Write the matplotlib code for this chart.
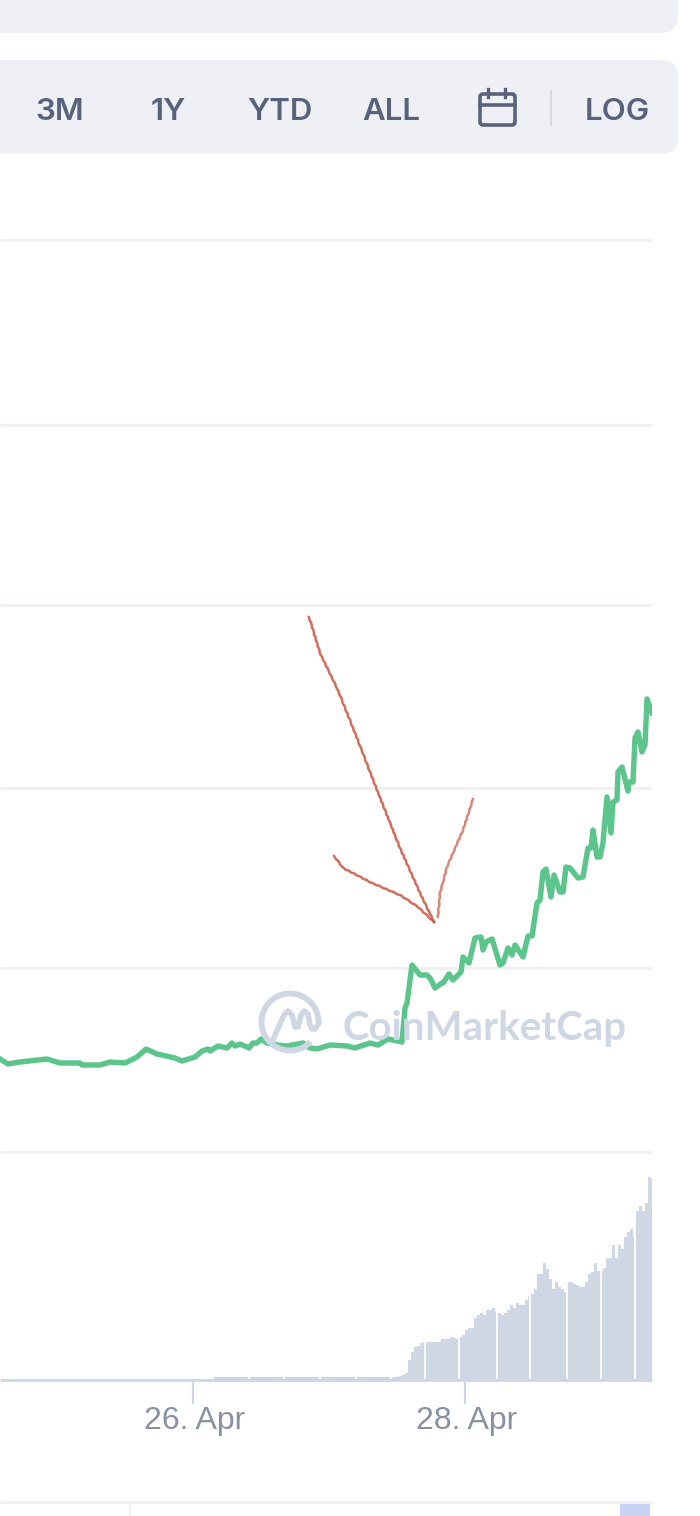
import matplotlib
matplotlib.use('Agg')
from matplotlib import pyplot as plt
from matplotlib.patches import FancyBboxPatch, Arc, Rectangle
from matplotlib.transforms import ScaledTranslation

# time runs in samples (about 10.6 minutes each), price/volume in arbitrary chart units
price_t = [0, 8, 20, 47, 60, 80, 82, 100, 110, 125, 137, 146, 157, 175, 182, 195, 202, 208, 210, 218,
           227, 232, 235, 240, 249, 253, 257, 261, 267, 277, 287, 303, 310, 317, 330, 347, 355, 370, 378, 388,
           402, 405, 407, 412, 420, 427, 430, 435, 442, 443, 449, 453, 461, 463, 469, 475, 481, 483, 486, 492,
           500, 503, 508, 512, 515, 523, 528, 532, 537, 540, 543, 546, 551, 554, 560, 563, 566, 570, 578, 583,
           588, 591, 593, 597, 600, 603, 607, 611, 613, 617, 618, 622, 628, 629, 633, 635, 638, 642, 645, 647, 652]
price = [93, 88, 90, 93, 89, 89, 87, 87, 90, 89, 95, 103, 98, 94, 91, 95, 101, 103, 101, 106,
         104, 109, 106, 108, 104, 109, 109, 113, 109, 107, 106, 109, 104, 103, 107, 106, 104, 109, 107, 113,
         110, 144, 149, 187, 177, 177, 174, 164, 169, 169, 178, 172, 180, 195, 189, 214, 215, 202, 210, 213,
         187, 189, 204, 197, 207, 195, 216, 216, 249, 252, 280, 283, 255, 277, 260, 260, 285, 284, 274, 275,
         304, 304, 322, 295, 295, 309, 355, 319, 350, 352, 380, 385, 361, 370, 370, 414, 420, 400, 407, 453, 439]

low_volume = [3, 3, 3, 3, 3, 3, 3, 3, 3, 3, 3, 3, 3, 3, 3, 3, 3, 3, 3, 3, 3,
              3, 3, 3, 3, 3, 3, 3, 3, 3, 3, 3, 3, 3, 3, 3, 3, 3, 3, 3, 3, 3,
              3, 3, 3, 3, 3, 3, 3, 3, 3, 3, 3, 3, 3, 3, 3, 3, 3, 3, 3, 3, 4]
high_volume = [5, 7, 20, 28, 33, 34, 37, 38, 38, 38, 38, 38, 38, 41, 41, 41, 43, 42, 41, 43, 45,
               50, 52, 52, 62, 65, 67, 65, 70, 70, 72, 69, 67, 65, 67, 70, 75, 72, 77, 75, 75, 80,
               83, 86, 91, 106, 106, 117, 111, 101, 91, 98, 93, 91, 88, 98, 98, 96, 95, 93, 93, 98,
               106, 108, 117, 109, 109, 112, 122, 122, 135, 122, 135, 131, 143, 148, 151, 143, 169, 174, 169, 177,
               203, 201]
volume = low_volume + high_volume
# thin white breaks in the volume bars
volume_gaps = [213, 249, 284, 320, 356, 391, 425, 459, 497, 530, 567, 601, 635]

grid_levels = [0, 184, 364, 547, 727, 912]
tick_samples = [193, 465]
tick_labels = ['26. Apr', '28. Apr']
range_buttons = ['3M', '1Y', 'YTD', 'ALL', 'LOG']
range_centers = [60, 168, 280, 391, 617]

GREEN = '#5bc58b'
GRID = '#eff1f5'
BAR = '#cfd6e4'
TICK = '#8a91a3'
BUTTON = '#58637b'
PANEL = '#eff0f5'
RED = '#c9553f'

W, H = 700, 1516
fig = plt.figure(figsize=(W / 100, H / 100), dpi=100)

def px_axes(left, top, right, bottom):
    a = fig.add_axes([left / W, 1 - bottom / H, (right - left) / W, (bottom - top) / H])
    a.patch.set_visible(False)
    return a

# price pane
ax = px_axes(0, 240, 652, 1152)
ax.set_xlim(0, 652)
ax.set_ylim(0, 912)
for level in grid_levels:
    ax.axhline(level, color=GRID, lw=2.2, clip_on=False, zorder=1, solid_capstyle='butt')
ax.plot(price_t, price, color=GREEN, lw=3.9, solid_joinstyle='round', zorder=3)
ax.axis('off')

# volume pane
ax2 = px_axes(0, 1152, 652, 1380)
ax2.set_xlim(0, 652)
ax2.set_ylim(0, 228)
bar_x = [213 + 3 * i for i in range(len(volume))]
ax2.bar(bar_x, volume, width=3, align='edge', color=BAR, lw=0)
ax2.vlines(volume_gaps, 1.5, 215, color='white', lw=1.3, zorder=3)
for s in ['top', 'left', 'right']:
    ax2.spines[s].set_visible(False)
ax2.spines['bottom'].set_color('#cdd5e6')
ax2.spines['bottom'].set_linewidth(2)
ax2.spines['bottom'].set_capstyle('butt')
ax2.spines['bottom'].set_zorder(4)
ax2.set_yticks([])
ax2.set_xticks(tick_samples)
ax2.set_xticklabels(tick_labels, family='Liberation Sans', fontsize=23, color=TICK)
ax2.tick_params(axis='x', length=17, width=1.6, color='#cdd5e6', pad=1.5)
for lab in ax2.get_xticklabels():
    lab.set_transform(lab.get_transform() + ScaledTranslation(0.015, 0, fig.dpi_scale_trans))

# page furniture and annotations drawn in picture pixels
ov = fig.add_axes([0, 0, 1, 1], facecolor='none')
ov.set_xlim(0, W)
ov.set_ylim(H, 0)
ov.axis('off')

for top, bottom in [(-60, 33), (60, 154)]:
    ov.add_patch(FancyBboxPatch((-60, top), 738, bottom - top,
                                boxstyle='round,pad=0,rounding_size=17',
                                fc=PANEL, ec='none'))

for label, cx in zip(range_buttons, range_centers):
    ov.text(cx, 120, label, ha='center', va='baseline', family='Inter', weight='semibold',
            fontsize=22.5, color=BUTTON)

# calendar icon
ov.add_patch(FancyBboxPatch((480, 94), 35, 31, boxstyle='round,pad=0,rounding_size=3',
                            fc='none', ec=BUTTON, lw=2.6))
ov.plot([480, 515], [105, 105], color=BUTTON, lw=2.6)
ov.plot([488, 488], [89, 97], color=BUTTON, lw=2.4)
ov.plot([505, 505], [89, 97], color=BUTTON, lw=2.4)
ov.plot([551, 551], [91, 125], color='#d5dae5', lw=1.6)

# watermark
ov.add_patch(Arc((290, 1022), 57, 57, theta1=44, theta2=360, color=BAR, lw=4.2))
ov.plot([273, 279, 284, 288, 292, 295, 298, 301, 304, 308, 310, 312, 315, 319],
        [1040, 1026, 1015, 1011, 1015, 1027, 1027, 1015, 1011, 1014, 1025, 1029, 1029, 1023],
        color=BAR, lw=4, solid_joinstyle='round', solid_capstyle='round')
ov.text(342, 1040, 'CoinMarketCap', ha='left', va='baseline', family='Lato', weight='bold',
        fontsize=29, color=BAR)

# hand-drawn arrow
strokes = [
    ([309, 320, 337, 355, 377, 400, 420, 434], [617, 653, 688, 733, 790, 848, 893, 922], 0.85),
    ([334, 343, 372, 400, 418, 434], [856, 868, 883, 895, 907, 922], 0.85),
    ([473, 463, 447, 440, 438], [799, 830, 867, 893, 917], 0.7),
]
for sx, sy, a in strokes:
    line, = ov.plot(sx, sy, color=RED, lw=1.8, alpha=a)
    line.set_sketch_params(scale=0.35, length=8, randomness=2)

# navigator strip at the bottom
ov.plot([0, 652], [1502, 1502], color=GRID, lw=2.2, solid_capstyle='butt')
ov.plot([130, 130], [1502, 1516], color=GRID, lw=1.6)
ov.add_patch(Rectangle((620, 1503), 30, 13, fc='#c9d3f5', ec='none'))

fig.savefig('out.png', dpi=100)
